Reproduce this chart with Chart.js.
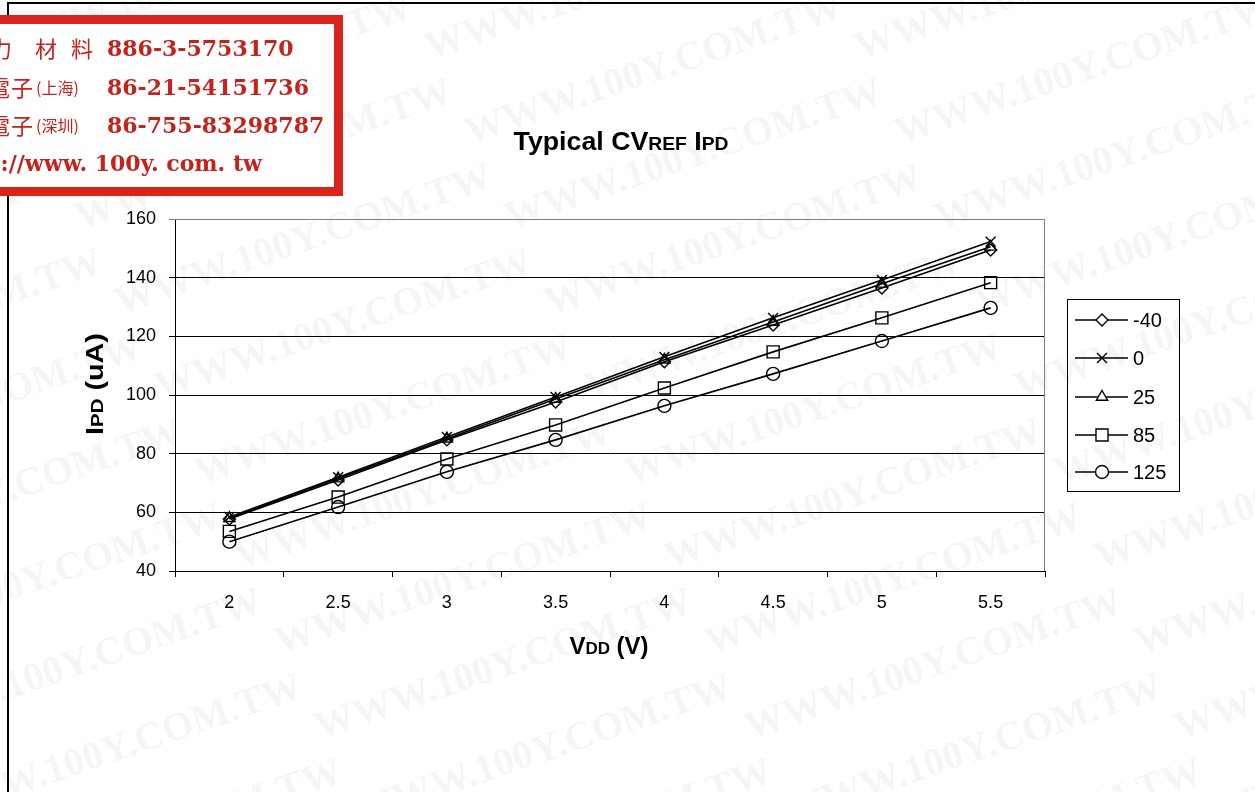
<!DOCTYPE html>
<html>
<head>
<meta charset="utf-8">
<script src="https://cdn.jsdelivr.net/npm/chart.js@4.4.1/dist/chart.umd.min.js"></script>
<style>
  html, body { margin: 0; padding: 0; background: #fff; }
  #wrap { position: relative; width: 1255px; height: 792px; }
</style>
</head>
<body>
<div id="wrap"><canvas id="myChart" width="1255" height="792"></canvas></div>
<script>
// supply voltage categories and current readings (uA) per temperature
const vdd = ['2', '2.5', '3', '3.5', '4', '4.5', '5', '5.5'];
const tempLabels = ['-40', '0', '25', '85', '125'];
const ipdM40 = [57.7, 71.0, 84.7, 97.6, 111.3, 123.9, 136.5, 149.4];
const ipd0   = [58.4, 72.0, 85.7, 99.3, 113.0, 126.3, 139.2, 152.3];
const ipd25  = [58.0, 71.5, 85.1, 98.6, 112.0, 124.9, 137.9, 150.5];
const ipd85  = [53.5, 65.2, 78.2, 89.8, 102.4, 114.7, 126.3, 138.3];
const ipd125 = [50.0, 61.8, 73.8, 84.7, 96.3, 107.2, 118.4, 129.7];
const yTicks = [40, 60, 80, 100, 120, 140, 160];

const FONT = '"Liberation Sans", Arial, sans-serif';
const markers = [
  {style: 'rectRot', r: 6},
  {style: 'crossRot', r: 7},
  {style: 'triangle', r: 6.5},
  {style: 'rect', r: 8.5},
  {style: 'circle', r: 6.5}
];
const seriesData = [ipdM40, ipd0, ipd25, ipd85, ipd125];

function ds(i) {
  return {
    label: tempLabels[i],
    data: seriesData[i],
    borderColor: '#000',
    borderWidth: 1.6,
    backgroundColor: '#fff',
    pointStyle: markers[i].style,
    pointRadius: markers[i].r,
    pointBorderWidth: 1.4,
    pointBorderColor: '#000',
    pointBackgroundColor: 'rgba(255,255,255,0)',
    tension: 0,
    fill: false
  };
}

// draws text pieces of mixed size in a row, optionally stretched along the row
function drawRuns(ctx, runs, x, y, align, sx) {
  sx = sx || 1;
  let total = 0;
  runs.forEach(r => { ctx.font = r.f; total += ctx.measureText(r.t).width; });
  ctx.save();
  ctx.translate(x, y);
  ctx.scale(sx, 1);
  let cx = align === 'center' ? -total / 2 : 0;
  ctx.textAlign = 'left';
  ctx.textBaseline = 'alphabetic';
  runs.forEach(r => { ctx.font = r.f; ctx.fillText(r.t, cx, 0); cx += ctx.measureText(r.t).width; });
  ctx.restore();
}

const decor = {
  id: 'decor',
  beforeDraw(chart) {
    const ctx = chart.ctx;
    ctx.save();
    ctx.fillStyle = '#fff';
    ctx.fillRect(0, 0, chart.width, chart.height);
    // faint watermark
    ctx.fillStyle = 'rgba(0,0,0,0.04)';
    ctx.font = 'bold 40px "Liberation Serif", serif';
    for (let row = -6; row < 16; row++) {
      for (let col = -2; col < 5; col++) {
        ctx.save();
        ctx.translate(col * 430 + row * 40, row * 85 + 60);
        ctx.rotate(-0.33);
        ctx.fillText('WWW.100Y.COM.TW', 0, 0);
        ctx.restore();
      }
    }
    // page frame
    ctx.fillStyle = '#000';
    ctx.fillRect(8, 2, chart.width - 8, 2);
    ctx.fillRect(7, 2, 2, chart.height);
    ctx.restore();
  },
  afterDraw(chart) {
    const ctx = chart.ctx;
    const a = chart.chartArea;
    ctx.save();
    // plot area border (top/right gray)
    ctx.strokeStyle = '#808080';
    ctx.lineWidth = 1;
    ctx.beginPath();
    ctx.moveTo(a.left, a.top + 0.5);
    ctx.lineTo(a.right - 0.5, a.top + 0.5);
    ctx.lineTo(a.right - 0.5, a.bottom);
    ctx.stroke();

    ctx.fillStyle = '#000';
    drawRuns(ctx, [
      {t: 'Typical CV', f: 'bold 25px ' + FONT},
      {t: 'REF', f: 'bold 18px ' + FONT},
      {t: ' I', f: 'bold 25px ' + FONT},
      {t: 'PD', f: 'bold 18px ' + FONT}
    ], 621, 150, 'center', 1.07);

    drawRuns(ctx, [
      {t: 'V', f: 'bold 24px ' + FONT},
      {t: 'DD', f: 'bold 17px ' + FONT},
      {t: ' (V)', f: 'bold 24px ' + FONT}
    ], 609, 654, 'center', 1.0);

    ctx.save();
    ctx.translate(103, 384);
    ctx.rotate(-Math.PI / 2);
    drawRuns(ctx, [
      {t: 'I', f: 'bold 24px ' + FONT},
      {t: 'PD', f: 'bold 17px ' + FONT},
      {t: ' (uA)', f: 'bold 24px ' + FONT}
    ], 0, 0, 'center', 1.2);
    ctx.restore();

    // legend box
    ctx.strokeStyle = '#000';
    ctx.lineWidth = 1;
    ctx.strokeRect(1067.5, 299.5, 112, 192);
    const ys = [320, 358, 397, 435, 472];
    chart.data.datasets.forEach((d, i) => {
      ctx.strokeStyle = '#000';
      ctx.lineWidth = 1.6;
      ctx.beginPath();
      ctx.moveTo(1075, ys[i]);
      ctx.lineTo(1128, ys[i]);
      ctx.stroke();
      ctx.fillStyle = '#fff';
      ctx.lineWidth = 1.4;
      Chart.helpers.drawPoint(ctx, {pointStyle: markers[i].style, radius: markers[i].r, rotation: 0, borderWidth: 1.4}, 1102, ys[i]);
      ctx.fillStyle = '#000';
      ctx.font = '20px ' + FONT;
      ctx.textAlign = 'left';
      ctx.textBaseline = 'middle';
      ctx.fillText(d.label, 1133, ys[i] + 1);
    });

    // company stamp
    ctx.fillStyle = '#d8241b';
    ctx.fillRect(0, 15, 343, 181);
    ctx.fillStyle = '#fff';
    ctx.fillRect(0, 24, 334, 163);
    ctx.beginPath();
    ctx.rect(0, 24, 334, 163);
    ctx.clip();
    ctx.fillStyle = '#c4231d';
    ctx.textBaseline = 'alphabetic';
    ctx.textAlign = 'left';
    const cjk = '22px "Noto Sans CJK TC", sans-serif';
    const cjkS = '16px "Noto Sans CJK TC", sans-serif';
    const num = 'bold 22px "DejaVu Serif", "Liberation Serif", serif';
    ctx.font = cjk;
    ctx.fillText('力', -10, 57);
    ctx.fillText('材', 35, 57);
    ctx.fillText('料', 71, 57);
    ctx.fillText('電', -12, 96);
    ctx.fillText('子', 11, 96);
    ctx.fillText('電', -12, 134);
    ctx.fillText('子', 11, 134);
    ctx.font = cjkS;
    ctx.fillText('(上海)', 36, 94);
    ctx.fillText('(深圳)', 36, 132);
    ctx.font = num;
    ctx.fillText('886-3-5753170', 107, 56);
    ctx.fillText('86-21-54151736', 107, 95);
    ctx.fillText('86-755-83298787', 107, 133);
    ctx.textAlign = 'right';
    ctx.fillText('http://www. 100y. com. tw', 262, 171);
    ctx.restore();
  }
};

new Chart('myChart', {
  type: 'line',
  data: {
    labels: vdd,
    datasets: [0, 1, 2, 3, 4].map(ds)
  },
  options: {
    responsive: false,
    animation: false,
    layout: {padding: {top: 219, right: 210, left: 0, bottom: 0}},
    plugins: {
      legend: {display: false},
      title: {display: false},
      tooltip: {enabled: false}
    },
    scales: {
      x: {
        type: 'category',
        offset: true,
        afterFit(s) { s.height = 221; },
        grid: {offset: true, drawOnChartArea: false, tickLength: 6, color: '#000', lineWidth: 1},
        border: {color: '#000', width: 1},
        ticks: {font: {family: FONT, size: 18}, color: '#000', padding: 15, maxRotation: 0}
      },
      y: {
        min: 40,
        max: 160,
        afterFit(s) { s.width = 175; },
        afterBuildTicks(s) { s.ticks = yTicks.map(v => ({value: v})); },
        grid: {
          color: c => (c.tick && c.tick.value === 160 ? '#808080' : '#000'),
          lineWidth: 1,
          tickLength: 6
        },
        border: {color: '#000', width: 1},
        ticks: {font: {family: FONT, size: 18}, color: '#000', padding: 13}
      }
    }
  },
  plugins: [decor]
});
</script>
</body>
</html>
